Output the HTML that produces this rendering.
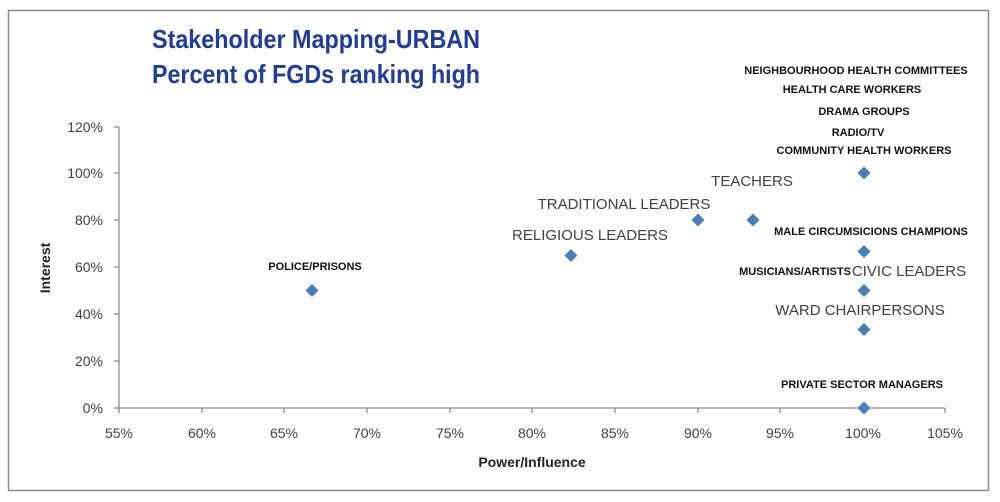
<!DOCTYPE html>
<html><head><style>body{margin:0;background:#fff}svg{display:block}</style></head>
<body>
<svg width="1000" height="502" xmlns="http://www.w3.org/2000/svg" font-family="Liberation Sans, sans-serif">
<rect x="0" y="0" width="1000" height="502" fill="#fff"/>
<rect x="8.5" y="10.5" width="980" height="480" fill="none" stroke="#8c8c8c" stroke-width="1.5"/>
<g fill="#1f3c99" font-weight="bold" font-size="26" text-anchor="middle">
<text x="316" y="48" textLength="328" lengthAdjust="spacingAndGlyphs">Stakeholder Mapping-URBAN</text>
<text x="316" y="83" textLength="328" lengthAdjust="spacingAndGlyphs">Percent of FGDs ranking high</text>
</g>
<g stroke="#8c8c8c" stroke-width="1.3">
<line x1="119" y1="127" x2="119" y2="408"/>
<line x1="119" y1="408" x2="945" y2="408"/>
<line x1="114" y1="127" x2="119" y2="127"/><line x1="114" y1="173" x2="119" y2="173"/><line x1="114" y1="220" x2="119" y2="220"/><line x1="114" y1="267" x2="119" y2="267"/><line x1="114" y1="314" x2="119" y2="314"/><line x1="114" y1="361" x2="119" y2="361"/><line x1="114" y1="408" x2="119" y2="408"/>
<line x1="119" y1="408" x2="119" y2="413"/><line x1="202" y1="408" x2="202" y2="413"/><line x1="284" y1="408" x2="284" y2="413"/><line x1="367" y1="408" x2="367" y2="413"/><line x1="450" y1="408" x2="450" y2="413"/><line x1="532" y1="408" x2="532" y2="413"/><line x1="615" y1="408" x2="615" y2="413"/><line x1="698" y1="408" x2="698" y2="413"/><line x1="780" y1="408" x2="780" y2="413"/><line x1="863" y1="408" x2="863" y2="413"/><line x1="945" y1="408" x2="945" y2="413"/>
</g>
<g fill="#404040" font-size="14" text-anchor="end">
<text x="103" y="132">120%</text><text x="103" y="178">100%</text><text x="103" y="225">80%</text><text x="103" y="272">60%</text><text x="103" y="319">40%</text><text x="103" y="366">20%</text><text x="103" y="413">0%</text>
</g>
<g fill="#404040" font-size="14" text-anchor="middle">
<text x="119" y="438">55%</text><text x="202" y="438">60%</text><text x="284" y="438">65%</text><text x="367" y="438">70%</text><text x="450" y="438">75%</text><text x="532" y="438">80%</text><text x="615" y="438">85%</text><text x="698" y="438">90%</text><text x="780" y="438">95%</text><text x="863" y="438">100%</text><text x="945" y="438">105%</text>
</g>
<text x="532" y="467" font-size="14" font-weight="bold" fill="#222" text-anchor="middle">Power/Influence</text>
<text transform="translate(50,268) rotate(-90)" font-size="14" font-weight="bold" fill="#222" text-anchor="middle">Interest</text>
<g fill="#4a7ebb">
<path d="M312 284 L318.5 290.5 L312 297 L305.5 290.5Z"/>
<path d="M571 249 L577.5 255.5 L571 262 L564.5 255.5Z"/>
<path d="M698 213.5 L704.5 220 L698 226.5 L691.5 220Z"/>
<path d="M753 213.5 L759.5 220 L753 226.5 L746.5 220Z"/>
<path d="M864 166.5 L870.5 173 L864 179.5 L857.5 173Z"/>
<path d="M864 245 L870.5 251.5 L864 258 L857.5 251.5Z"/>
<path d="M864 284 L870.5 290.5 L864 297 L857.5 290.5Z"/>
<path d="M864 323 L870.5 329.5 L864 336 L857.5 329.5Z"/>
<path d="M864 401.5 L870.5 408 L864 414.5 L857.5 408Z"/>
</g>
<g fill="#111" font-size="11" font-weight="bold" text-anchor="middle">
<text x="315" y="270">POLICE/PRISONS</text>
<text x="856" y="74">NEIGHBOURHOOD HEALTH COMMITTEES</text>
<text x="852" y="93">HEALTH CARE WORKERS</text>
<text x="864" y="115">DRAMA GROUPS</text>
<text x="858" y="136">RADIO/TV</text>
<text x="864" y="154">COMMUNITY HEALTH WORKERS</text>
<text x="871" y="235">MALE CIRCUMSICIONS CHAMPIONS</text>
<text x="795" y="275">MUSICIANS/ARTISTS</text>
<text x="862" y="388">PRIVATE SECTOR MANAGERS</text>
</g>
<g fill="#404040" font-size="15" text-anchor="middle">
<text x="590" y="240">RELIGIOUS LEADERS</text>
<text x="624" y="209">TRADITIONAL LEADERS</text>
<text x="752" y="186">TEACHERS</text>
<text x="909" y="276">CIVIC LEADERS</text>
<text x="860" y="315">WARD CHAIRPERSONS</text>
</g>
</svg>
</body></html>
